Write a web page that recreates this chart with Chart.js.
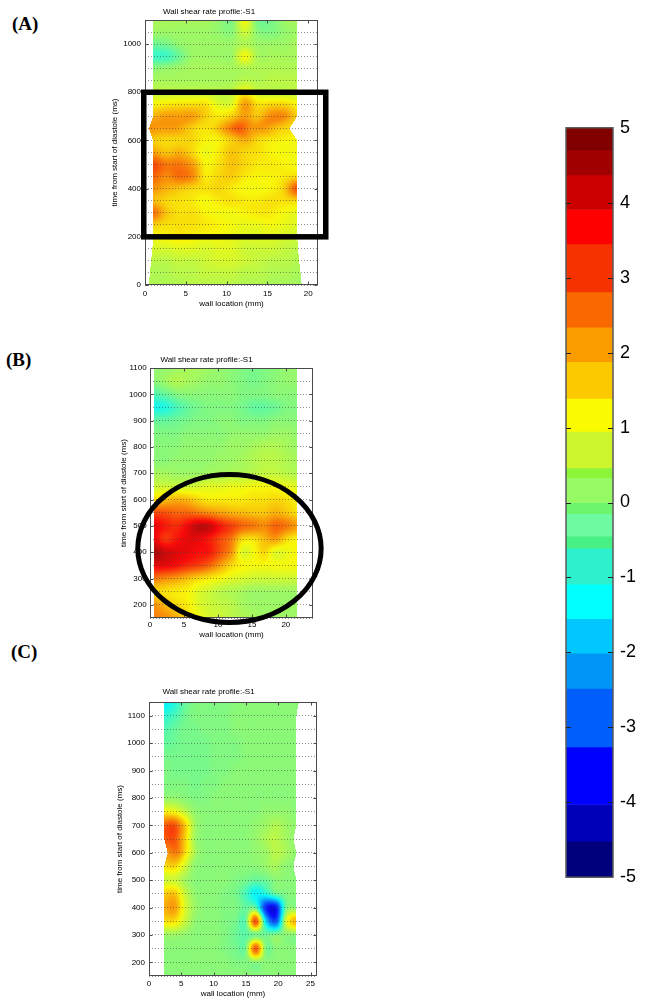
<!DOCTYPE html>
<html>
<head>
<meta charset="utf-8">
<title>Wall shear rate profile</title>
<script src="https://cdn.jsdelivr.net/npm/chart.js@4.4.1/dist/chart.umd.min.js"></script>
<style>
  html, body { margin: 0; padding: 0; background: #fff; }
  body { width: 649px; height: 1007px; position: relative; overflow: hidden; }
  canvas { position: absolute; }
  .tag { position: absolute; font-family: 'Liberation Serif', 'Times New Roman', serif; font-weight: bold; font-size: 19px; line-height: 19px; color: #000; }
</style>
</head>
<body>
<div class="tag" style="left:12px; top:14px;">(A)</div>
<div class="tag" style="left:6px; top:350px;">(B)</div>
<div class="tag" style="left:11px; top:642px;">(C)</div>

<canvas id="mapA" width="235" height="312" style="left:100px; top:0px; width:235px; height:312px;"></canvas>
<canvas id="mapB" width="235" height="305" style="left:100px; top:335px; width:235px; height:305px;"></canvas>
<canvas id="mapC" width="235" height="342" style="left:100px; top:665px; width:235px; height:342px;"></canvas>
<canvas id="colorbar" width="109" height="785" style="left:540px; top:110px; width:109px; height:785px;"></canvas>

<script>
// ---- DATA ----
// each row = one time step, values spread evenly between the wall edges of that row

// panel A
const timesA = [0, 50, 100, 150, 200, 250, 300, 350, 400, 450, 500, 550, 600, 650, 700, 750, 800, 850, 900, 950, 1000, 1050, 1100];
const leftA  = [0.45, 0.6, 0.75, 0.9, 1.0, 1.0, 1.0, 1.0, 1.0, 1.0, 1.0, 1.0, 1.0, 0.5, 1.0, 1.0, 1.0, 1.0, 1.0, 1.0, 1.0, 1.0, 1.0];
const rightA = [19.2, 19.05, 18.9, 18.75, 18.65, 18.65, 18.65, 18.65, 18.65, 18.65, 18.65, 18.65, 18.65, 17.7, 18.65, 18.65, 18.65, 18.65, 18.65, 18.65, 18.65, 18.65, 18.65];
const wssA = [
  [0.5, 0.5, 0.5, 0.6, 0.6, 0.6, 0.6, 0.5, 0.5, 0.4, 0.4, 0.3],
  [0.5, 0.5, 0.6, 0.6, 0.7, 0.7, 0.7, 0.6, 0.6, 0.5, 0.5, 0.4],
  [0.6, 0.6, 0.7, 0.7, 0.8, 0.9, 0.9, 0.8, 0.7, 0.6, 0.6, 0.5],
  [0.9, 0.9, 1.0, 1.0, 0.9, 1.0, 1.0, 0.8, 0.8, 0.8, 0.7, 0.6],
  [1.2, 1.3, 1.4, 1.3, 1.2, 1.2, 1.1, 1.0, 1.0, 1.0, 0.9, 0.8],
  [1.7, 1.5, 1.5, 1.5, 1.4, 1.3, 1.2, 1.1, 1.1, 1.2, 1.1, 1.0],
  [2.7, 1.8, 1.5, 1.5, 1.3, 1.2, 1.2, 1.3, 1.4, 1.4, 1.2, 1.1],
  [1.9, 1.6, 1.5, 1.4, 1.2, 1.4, 1.5, 1.4, 1.4, 1.5, 1.5, 1.6],
  [2.3, 2.0, 1.8, 1.6, 1.5, 1.6, 1.4, 1.2, 1.2, 1.3, 1.7, 3.0],
  [2.8, 2.4, 2.7, 2.4, 1.4, 1.6, 1.7, 1.4, 1.3, 1.3, 1.4, 1.6],
  [3.1, 2.6, 2.6, 2.2, 1.3, 1.5, 1.8, 1.6, 1.4, 1.4, 1.3, 1.2],
  [2.2, 1.8, 2.0, 1.6, 1.1, 1.4, 1.8, 1.6, 1.5, 1.3, 1.2, 1.2],
  [1.7, 1.6, 1.6, 1.6, 1.3, 1.3, 1.7, 2.0, 1.6, 1.4, 1.3, 1.2],
  [2.3, 2.2, 2.2, 1.8, 1.5, 1.6, 2.3, 2.9, 2.3, 2.2, 1.8, 1.6],
  [2.0, 2.2, 2.2, 2.2, 1.7, 1.4, 1.7, 2.2, 1.8, 2.4, 2.4, 1.7],
  [1.3, 1.4, 1.5, 1.5, 1.5, 1.0, 1.0, 2.2, 1.5, 1.6, 1.6, 1.3],
  [0.7, 0.7, 0.7, 0.7, 0.7, 0.6, 0.7, 1.3, 0.8, 0.7, 0.7, 0.7],
  [0.4, 0.4, 0.4, 0.4, 0.4, 0.4, 0.4, 0.6, 0.5, 0.6, 0.6, 0.6],
  [0.1, 0.2, 0.3, 0.4, 0.4, 0.4, 0.4, 0.5, 0.5, 0.5, 0.5, 0.5],
  [-0.7, -0.7, -0.2, 0.3, 0.3, 0.3, 0.3, 1.2, 0.4, 0.4, 0.4, 0.4],
  [-0.2, -0.1, 0.2, 0.3, 0.3, 0.3, 0.3, 0.5, 0.3, 0.3, 0.3, 0.4],
  [0.3, 0.3, 0.3, 0.3, 0.3, 0.2, 0.1, 0.8, 0.1, 0.0, 0.2, 0.3],
  [0.4, 0.4, 0.4, 0.4, 0.4, 0.2, 0.0, 1.2, -0.1, -0.1, 0.3, 0.4]
];
const xTicksA = [0, 5, 10, 15, 20];
const yTicksA = [0, 200, 400, 600, 800, 1000];

// panel B
const timesB = [150, 200, 250, 300, 350, 400, 450, 500, 550, 600, 650, 700, 750, 800, 850, 900, 950, 1000, 1050, 1100];
const leftB  = [0.6, 0.6, 0.6, 0.6, 0.6, 0.6, 0.6, 0.6, 0.6, 0.6, 0.6, 0.6, 0.6, 0.6, 0.6, 0.6, 0.6, 0.6, 0.6, 0.6];
const rightB = [21.7, 21.7, 21.7, 21.7, 21.7, 21.7, 21.7, 21.7, 21.7, 21.7, 21.7, 21.7, 21.7, 21.7, 21.7, 21.7, 21.7, 21.7, 21.7, 21.7];
const wssB = [
  [2.5, 2.4, 2.0, 1.6, 1.2, 0.9, 0.8, 0.6, 0.5, 0.4, 0.3, 0.3, 0.3, 0.3],
  [2.3, 1.9, 1.6, 1.4, 1.0, 0.8, 0.7, 0.6, 0.4, 0.3, 0.3, 0.3, 0.3, 0.3],
  [1.6, 1.5, 1.4, 1.3, 1.0, 0.8, 0.6, 0.5, 0.4, 0.3, 0.3, 0.3, 0.3, 0.3],
  [2.6, 2.4, 2.2, 1.9, 1.6, 1.4, 1.2, 1.0, 0.9, 0.8, 0.8, 0.8, 0.8, 0.8],
  [3.9, 3.9, 3.7, 3.4, 3.2, 2.8, 2.2, 1.6, 1.3, 1.2, 1.2, 1.2, 1.2, 1.2],
  [4.6, 4.2, 4.0, 3.9, 3.7, 3.6, 3.0, 2.3, 1.0, 1.2, 1.6, 1.0, 1.1, 1.3],
  [3.9, 3.3, 3.6, 3.9, 3.9, 3.6, 3.1, 2.6, 1.6, 1.5, 1.9, 2.2, 1.6, 1.3],
  [3.9, 3.6, 3.4, 3.8, 4.3, 4.2, 3.6, 3.2, 2.8, 2.6, 2.4, 2.8, 2.6, 2.2],
  [3.1, 3.0, 2.8, 2.8, 2.6, 2.4, 2.2, 2.0, 1.9, 1.8, 1.8, 2.0, 1.8, 1.5],
  [1.6, 1.8, 2.0, 1.9, 1.6, 1.4, 1.4, 1.4, 1.4, 1.5, 1.5, 1.6, 1.5, 1.3],
  [0.8, 0.8, 0.8, 0.8, 0.9, 1.0, 1.0, 1.1, 1.1, 1.2, 1.2, 1.2, 1.1, 1.0],
  [0.4, 0.4, 0.3, 0.3, 0.3, 0.4, 0.4, 0.5, 0.5, 0.6, 0.7, 0.7, 0.6, 0.5],
  [0.1, 0.1, 0.2, 0.2, 0.2, 0.2, 0.3, 0.3, 0.4, 0.5, 0.6, 0.6, 0.5, 0.4],
  [0.1, 0.1, 0.1, 0.2, 0.2, 0.2, 0.2, 0.3, 0.3, 0.4, 0.5, 0.5, 0.4, 0.3],
  [0.0, 0.0, 0.0, 0.1, 0.1, 0.1, 0.1, 0.2, 0.2, 0.2, 0.2, 0.3, 0.3, 0.2],
  [-0.3, -0.3, -0.2, -0.1, 0.0, 0.0, 0.1, 0.1, 0.0, 0.0, 0.0, 0.1, 0.1, 0.1],
  [-1.1, -1.0, -0.6, -0.3, -0.1, 0.0, 0.0, 0.0, -0.1, -0.3, -0.3, -0.2, 0.0, 0.0],
  [-0.5, -0.3, 0.0, 0.1, 0.1, 0.1, 0.1, 0.1, 0.0, 0.0, 0.0, 0.1, 0.1, 0.1],
  [0.1, 0.3, 0.5, 0.4, 0.3, 0.2, 0.2, 0.1, 0.0, -0.1, 0.0, 0.1, 0.2, 0.2],
  [0.2, 0.2, 0.3, 0.4, 0.4, 0.3, 0.2, 0.1, 0.0, -0.1, 0.0, 0.1, 0.2, 0.2]
];
const xTicksB = [0, 5, 10, 15, 20];
const yTicksB = [200, 300, 400, 500, 600, 700, 800, 900, 1000, 1100];

// panel C
const timesC = [150, 200, 250, 300, 350, 400, 450, 500, 550, 600, 650, 700, 750, 800, 850, 900, 950, 1000, 1050, 1100, 1150];
const leftC  = [2.35, 2.35, 2.35, 2.35, 2.35, 2.35, 2.35, 2.35, 2.35, 2.9, 2.35, 2.35, 2.35, 2.35, 2.35, 2.35, 2.35, 2.35, 2.35, 2.35, 2.35];
const rightC = [22.8, 22.8, 22.8, 22.8, 22.8, 22.8, 22.8, 22.8, 22.35, 22.8, 22.35, 22.8, 22.8, 22.8, 22.8, 22.8, 22.8, 22.8, 22.8, 22.8, 23.2];
const wssC = [
  [0.1, 0.1, 0.1, 0.1, 0.1, 0.1, 0.1, 0.1, 0.1, 0.1, 0.1, 0.1, 0.1, 0.1],
  [0.1, 0.1, 0.1, 0.1, 0.1, 0.1, 0.1, 0.0, 0.0, 0.1, 0.1, 0.1, 0.1, 0.1],
  [0.1, 0.1, 0.1, 0.1, 0.1, 0.1, 0.0, -0.1, -0.1, 2.9, 0.0, 0.1, 0.1, 0.1],
  [0.3, 0.3, 0.2, 0.1, 0.1, 0.1, 0.0, -0.2, -0.4, -0.1, -0.2, 0.0, 0.1, 0.1],
  [1.5, 1.5, 0.8, 0.2, 0.1, 0.1, 0.0, -0.1, -0.3, 3.0, -1.5, -3.0, 0.9, 2.0],
  [2.0, 2.2, 1.0, 0.3, 0.1, 0.1, 0.0, 0.0, -0.3, -0.4, -3.4, -3.6, -0.2, 0.1],
  [1.7, 1.8, 0.8, 0.2, 0.1, 0.1, 0.0, -0.1, -0.6, -1.3, -1.0, -0.3, 0.0, 0.1],
  [0.8, 0.8, 0.4, 0.1, 0.1, 0.1, 0.1, 0.0, -0.1, -0.3, -0.2, 0.1, 0.1, 0.1],
  [1.5, 1.6, 0.9, 0.2, 0.1, 0.1, 0.1, 0.1, 0.1, 0.1, 0.2, 0.4, 0.2, 0.1],
  [2.3, 2.5, 1.3, 0.3, 0.1, 0.1, 0.1, 0.1, 0.1, 0.2, 0.3, 0.6, 0.4, 0.2],
  [2.9, 3.0, 1.8, 0.4, 0.1, 0.1, 0.1, 0.1, 0.1, 0.2, 0.4, 0.6, 0.4, 0.2],
  [2.9, 3.0, 1.8, 0.4, 0.1, 0.1, 0.1, 0.1, 0.1, 0.2, 0.3, 0.5, 0.3, 0.2],
  [1.3, 1.2, 0.7, 0.2, 0.1, 0.1, 0.1, 0.1, 0.1, 0.1, 0.2, 0.2, 0.2, 0.1],
  [0.2, 0.2, 0.1, 0.0, 0.0, 0.1, 0.1, 0.1, 0.1, 0.1, 0.1, 0.1, 0.1, 0.1],
  [0.0, 0.0, 0.0, -0.1, 0.0, 0.0, 0.1, 0.1, 0.1, 0.1, 0.1, 0.1, 0.1, 0.1],
  [0.0, -0.1, -0.1, -0.1, -0.1, 0.0, 0.0, 0.1, 0.1, 0.1, 0.1, 0.1, 0.1, 0.1],
  [-0.1, -0.1, -0.1, -0.1, -0.1, 0.0, 0.0, 0.0, 0.1, 0.1, 0.1, 0.1, 0.1, 0.1],
  [-0.3, -0.2, -0.1, -0.1, -0.1, 0.0, 0.0, 0.0, 0.1, 0.1, 0.1, 0.1, 0.1, 0.1],
  [-0.5, -0.3, -0.1, -0.1, 0.0, 0.0, 0.0, 0.1, 0.1, 0.1, 0.1, 0.1, 0.1, 0.1],
  [-0.9, -0.6, -0.2, 0.0, 0.0, 0.0, 0.0, 0.1, 0.1, 0.1, 0.1, 0.1, 0.1, 0.1],
  [-1.4, -1.0, -0.3, 0.0, 0.0, 0.0, 0.0, 0.1, 0.1, 0.1, 0.1, 0.1, 0.1, 0.1]
];
const xTicksC = [0, 5, 10, 15, 20, 25];
const yTicksC = [200, 300, 400, 500, 600, 700, 800, 900, 1000, 1100];

// colour bar: level edges (top -> bottom) and the tick labels
const levelEdges = [5, 4.7, 4.37, 3.91, 3.45, 2.81, 2.34, 1.88, 1.39, 0.95, 0.46, 0.33, 0.0, -0.15, -0.45, -0.61, -1.09, -1.55, -2.01, -2.48, -3.26, -4.03, -4.52, -5];
const barTicks = [-5, -4, -3, -2, -1, 0, 1, 2, 3, 4, 5];

// ---- STYLE ----
const bandColors = [
  '#800000', '#a00000', '#cd0000', '#ff0000', '#f53200', '#fa6900', '#fa9b00', '#fcc800',
  '#fafa00', '#cdf52d', '#8cf537', '#96fa64', '#6ef56e', '#6efaa0', '#46f082', '#2df0cd',
  '#00ffff', '#00c8ff', '#0096f5', '#005ffa', '#0000ff', '#0000b9', '#00007d'
];
// marks drawn by hand on the original figure (in data units)
const boxA = { xMin: -0.15, xMax: 22.15, yMin: 200, yMax: 800 };
const ringB = { x: 11.7, y: 414, rx: 13.5, ry: 281 };

Chart.defaults.font.family = "'Liberation Sans', Arial, sans-serif";
Chart.defaults.color = '#000';

// jet colour map over -5..5, slightly washed out like the printed figure
function jet(v) {
  const t = (Math.max(-5, Math.min(5, v)) + 5) / 10;
  const c = x => Math.round(10 + 238 * Math.max(0, Math.min(1, x)));
  return [c(1.5 - Math.abs(4 * t - 3)), c(1.5 - Math.abs(4 * t - 2)), c(1.5 - Math.abs(4 * t - 1))];
}

function catmull(p0, p1, p2, p3, t) {
  return 0.5 * (2 * p1 + (-p0 + p2) * t + (2 * p0 - 5 * p1 + 4 * p2 - p3) * t * t + (-p0 + 3 * p1 - 3 * p2 + p3) * t * t * t);
}

function sampleRow(row, u) {
  const n = row.length;
  const pos = u * (n - 1);
  const i = Math.min(Math.floor(pos), n - 2);
  const g = k => row[Math.max(0, Math.min(n - 1, k))];
  return catmull(g(i - 1), g(i), g(i + 1), g(i + 2), pos - i);
}

// paints the shear-rate field inside the plot area, pixel by pixel via the chart scales
const wssMapPlugin = {
  id: 'wssMap',
  beforeDraw(chart, args, opts) {
    if (!opts || !opts.rows) return;
    const { times, lo, hi, rows } = opts;
    const area = chart.chartArea;
    const xs = chart.scales.x, ys = chart.scales.y;
    const x0 = Math.round(area.left), y0 = Math.round(area.top);
    const w = Math.round(area.right) - x0, h = Math.round(area.bottom) - y0;
    const off = document.createElement('canvas');
    off.width = w; off.height = h;
    const octx = off.getContext('2d');
    const img = octx.createImageData(w, h);
    const n = rows.length;
    for (let j = 0; j < h; j++) {
      const t = ys.getValueForPixel(y0 + j + 0.5);
      if (t < times[0] - 0.5 || t > times[n - 1] + 0.5) continue;
      let r = 0;
      while (r < n - 2 && t > times[r + 1]) r++;
      const f = Math.max(0, Math.min(1, (t - times[r]) / (times[r + 1] - times[r])));
      const L = lo[r] + (lo[r + 1] - lo[r]) * f;
      const R = hi[r] + (hi[r + 1] - hi[r]) * f;
      for (let i = 0; i < w; i++) {
        const x = xs.getValueForPixel(x0 + i + 0.5);
        if (x < L || x > R) continue;
        const u = (x - L) / (R - L);
        const at = k => sampleRow(rows[Math.max(0, Math.min(n - 1, k))], u);
        const v = catmull(at(r - 1), at(r), at(r + 1), at(r + 2), f);
        const c = jet(v);
        const k = (j * w + i) * 4;
        img.data[k] = c[0]; img.data[k + 1] = c[1]; img.data[k + 2] = c[2]; img.data[k + 3] = 255;
      }
    }
    octx.putImageData(img, 0, 0);
    chart.ctx.drawImage(off, x0, y0);
  }
};

// axes box, inner tick marks and the hand-drawn box / ring
const framePlugin = {
  id: 'frame',
  afterDraw(chart, args, opts) {
    const ctx = chart.ctx, a = chart.chartArea;
    const xs = chart.scales.x, ys = chart.scales.y;
    ctx.save();
    ctx.strokeStyle = '#4a4a4a';
    ctx.lineWidth = 1;
    const L = Math.round(a.left) + 0.5, R = Math.round(a.right) - 0.5;
    const T = Math.round(a.top) + 0.5, B = Math.round(a.bottom) - 0.5;
    ctx.strokeRect(L, T, R - L, B - T);
    ctx.beginPath();
    (opts.xTicks || []).forEach(v => {
      const px = Math.round(xs.getPixelForValue(v)) + 0.5;
      ctx.moveTo(px, B); ctx.lineTo(px, B - 3);
      ctx.moveTo(px, T); ctx.lineTo(px, T + 3);
    });
    (opts.yTicks || []).forEach(v => {
      const py = Math.round(ys.getPixelForValue(v)) + 0.5;
      ctx.moveTo(L, py); ctx.lineTo(L + 3, py);
      ctx.moveTo(R, py); ctx.lineTo(R - 3, py);
    });
    ctx.stroke();

    ctx.strokeStyle = '#000';
    ctx.lineWidth = 5.5;
    if (opts.box) {
      const bx = xs.getPixelForValue(opts.box.xMin), bx2 = xs.getPixelForValue(opts.box.xMax);
      const by = ys.getPixelForValue(opts.box.yMax), by2 = ys.getPixelForValue(opts.box.yMin);
      ctx.strokeRect(bx, by, bx2 - bx, by2 - by);
    }
    if (opts.ring) {
      const cx = xs.getPixelForValue(opts.ring.x), cy = ys.getPixelForValue(opts.ring.y);
      const rx = Math.abs(xs.getPixelForValue(opts.ring.x + opts.ring.rx) - cx);
      const ry = Math.abs(ys.getPixelForValue(opts.ring.y + opts.ring.ry) - cy);
      ctx.lineWidth = 5;
      ctx.beginPath();
      ctx.ellipse(cx, cy, rx, ry, 0, 0, Math.PI * 2);
      ctx.stroke();
    }
    ctx.restore();
  }
};

function makeMap(id, p) {
  // the measured nodes, placed through the x/y scales
  const nodes = [];
  p.rows.forEach((row, r) => row.forEach((v, c) => {
    nodes.push({ x: p.lo[r] + (p.hi[r] - p.lo[r]) * c / (row.length - 1), y: p.times[r], v: v });
  }));

  return new Chart(document.getElementById(id), {
    type: 'scatter',
    data: { datasets: [{ data: nodes, pointRadius: 0, pointHoverRadius: 0 }] },
    options: {
      responsive: false,
      animation: false,
      events: [],
      layout: { padding: { left: 0, right: p.padRight, top: 0, bottom: 0 } },
      plugins: {
        legend: { display: false },
        tooltip: { enabled: false },
        title: {
          display: true,
          text: 'Wall shear rate profile:-S1',
          color: '#000',
          font: { size: 8, weight: 'normal' },
          padding: { top: p.titleTop, bottom: p.titleBottom }
        },
        wssMap: { times: p.times, lo: p.lo, hi: p.hi, rows: p.rows },
        frame: { xTicks: p.xTicks, yTicks: p.yTicks, box: p.box, ring: p.ring }
      },
      scales: {
        x: {
          type: 'linear',
          min: 0,
          max: p.xMax,
          afterFit: s => { s.height = p.xHeight; },
          ticks: {
            stepSize: 5, includeBounds: false, autoSkip: false, maxRotation: 0,
            padding: p.xTickPad, font: { size: 8 }, color: '#000',
            callback: v => p.xTicks.includes(v) ? v : ''
          },
          grid: { display: false, drawTicks: false },
          border: { display: false },
          title: { display: true, text: 'wall location (mm)', color: '#000', font: { size: 8 }, padding: { top: 0, bottom: p.xTitlePad } }
        },
        y: {
          type: 'linear',
          min: p.yMin,
          max: p.yMax,
          afterFit: s => { s.width = p.yWidth; },
          ticks: {
            stepSize: 50, autoSkip: false, padding: p.yTickPad, font: { size: 8 }, color: '#000',
            callback: v => p.yTicks.includes(v) ? v : ''
          },
          grid: { color: 'rgba(60,60,60,0.55)', lineWidth: 1, drawTicks: false },
          border: { display: false, dash: [1, 2] },
          title: { display: true, text: 'time from start of diastole (ms)', color: '#000', font: { size: 8 }, padding: { top: p.yTitlePad, bottom: 0 } }
        }
      }
    },
    plugins: [wssMapPlugin, framePlugin]
  });
}

makeMap('mapA', {
  times: timesA, lo: leftA, hi: rightA, rows: wssA, xTicks: xTicksA, yTicks: yTicksA,
  xMax: 21.2, yMin: 0, yMax: 1100,
  padRight: 17, yWidth: 45, xHeight: 27,
  titleTop: 7.2, titleBottom: 3.2, xTickPad: 3.5, xTitlePad: 3.9, yTickPad: 4, yTitlePad: 10.2,
  box: boxA
});

makeMap('mapB', {
  times: timesB, lo: leftB, hi: rightB, rows: wssB, xTicks: xTicksB, yTicks: yTicksB,
  xMax: 24, yMin: 150, yMax: 1100,
  padRight: 22, yWidth: 50, xHeight: 22,
  titleTop: 19.5, titleBottom: 3.9, xTickPad: 2.2, xTitlePad: 0.2, yTickPad: 3.3, yTitlePad: 18.9,
  ring: ringB
});

makeMap('mapC', {
  times: timesC, lo: leftC, hi: rightC, rows: wssC, xTicks: xTicksC, yTicks: yTicksC,
  xMax: 26, yMin: 150, yMax: 1150,
  padRight: 18, yWidth: 49, xHeight: 31,
  titleTop: 21.9, titleBottom: 5.5, xTickPad: 2.5, xTitlePad: 8.2, yTickPad: 4, yTitlePad: 15.2
});

// colour bar: one floating bar per level band
const colorbarFrame = {
  id: 'colorbarFrame',
  afterDraw(chart) {
    const ctx = chart.ctx, a = chart.chartArea, ys = chart.scales.y;
    ctx.save();
    ctx.strokeStyle = '#5a5a5a';
    ctx.lineWidth = 1.5;
    ctx.strokeRect(a.left, a.top, a.right - a.left, a.bottom - a.top);
    ctx.strokeStyle = '#222';
    ctx.lineWidth = 1;
    ctx.beginPath();
    barTicks.forEach(v => {
      if (v === -5 || v === 5) return;
      const py = Math.round(ys.getPixelForValue(v)) + 0.5;
      ctx.moveTo(a.left, py); ctx.lineTo(a.left + 5, py);
      ctx.moveTo(a.right, py); ctx.lineTo(a.right - 5, py);
    });
    ctx.stroke();
    ctx.restore();
  }
};

new Chart(document.getElementById('colorbar'), {
  type: 'bar',
  data: {
    labels: [''],
    datasets: bandColors.map((col, i) => ({
      data: [[levelEdges[i + 1], levelEdges[i]]],
      backgroundColor: col,
      borderWidth: 0,
      grouped: false,
      barPercentage: 1,
      categoryPercentage: 1
    }))
  },
  options: {
    responsive: false,
    animation: false,
    events: [],
    layout: { padding: { left: 26, right: 0, top: 15, bottom: 17 } },
    plugins: { legend: { display: false }, tooltip: { enabled: false } },
    scales: {
      x: { display: false },
      y: {
        position: 'right',
        min: -5,
        max: 5,
        afterFit: s => { s.width = 36; },
        ticks: {
          stepSize: 1, padding: 7, font: { size: 18 }, color: '#000',
          callback: v => barTicks.includes(v) ? String(v) : ''
        },
        grid: { display: false, drawTicks: false },
        border: { display: false }
      }
    }
  },
  plugins: [colorbarFrame]
});
</script>
</body>
</html>
